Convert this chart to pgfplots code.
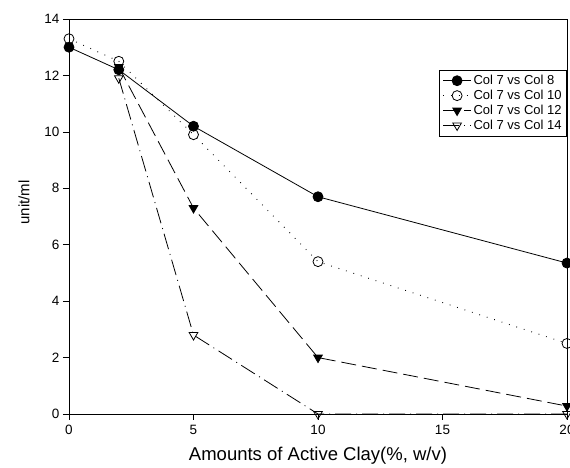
\documentclass[border=0pt]{standalone}
\usepackage{pgfplots}
\pgfplotsset{compat=1.18}
\usepackage{fontspec}
\setmainfont{Liberation Sans}

\begin{document}
\begin{tikzpicture}
\begin{axis}[
    name=ax,
    scale only axis,
    width=498pt, height=395pt,
    xmin=0, xmax=20, ymin=0, ymax=14,
    xtick={0,5,10,15,20},
    ytick={0,2,...,14},
    tick align=outside,
    xtick pos=bottom, ytick pos=left,
    major tick length=6pt,
    tick style={black, line width=0.6pt},
    axis line style={line width=0.7pt},
    tick label style={font=\fontsize{13.5}{15}\selectfont},
    xticklabel style={yshift=-2pt},
    /pgf/number format/assume math mode=true,
    xlabel={Amounts of Active Clay(\%, w/v)},
    ylabel={unit/ml},
    xlabel style={font=\fontsize{18.5}{20}\selectfont, yshift=-5pt},
    ylabel style={font=\fontsize{15}{17}\selectfont, yshift=8pt, xshift=14pt},
    clip=false,
    legend image code/.code={
      \draw[mark repeat=2, mark phase=2] plot coordinates {(0pt,0pt) (14pt,0pt) (28pt,0pt)};
    },
    legend style={
        font=\fontsize{13}{15}\selectfont,
        at={(1,0.871)}, anchor=north east,
        draw=black, line width=0.6pt,
        row sep=0pt, inner sep=3pt,
    },
    legend cell align=left,
]
  % Col 7 vs Col 8
  \addplot[black, line width=0.8pt, mark=*, mark size=5pt] coordinates {
    (0,13.0) (2,12.2) (5,10.2) (10,7.7) (20,5.35)
  };
  \addlegendentry{Col 7 vs Col 8}
  % Col 7 vs Col 10
  \addplot[black, line width=0.9pt, dash pattern=on 0.8pt off 7pt,
           mark=o, mark size=5pt, mark options={solid, fill=white, line width=0.8pt},
           legend image code/.code={
             \path[mark repeat=2, mark phase=2] plot coordinates {(0pt,0pt) (14pt,0pt) (28pt,0pt)};
           }] coordinates {
    (0,13.3) (2,12.5) (5,9.9) (10,5.4) (20,2.5)
  };
  \addlegendentry{Col 7 vs Col 10}
  % Col 7 vs Col 12
  \addplot[black, line width=0.8pt, dash pattern=on 15pt off 6pt,
           mark=triangle*, mark size=5pt, mark options={solid, rotate=180}] coordinates {
    (2,12.3) (5,7.3) (10,2.0) (20,0.28)
  };
  \addlegendentry{Col 7 vs Col 12}
  % Col 7 vs Col 14
  \addplot[black, line width=0.8pt, dash pattern=on 16pt off 5pt on 1pt off 5pt,
           mark=triangle, mark size=5pt, mark options={solid, rotate=180, fill=white}] coordinates {
    (2,11.9) (5,2.8) (10,0) (20,0)
  };
  \addlegendentry{Col 7 vs Col 14}
\end{axis}
\pgfresetboundingbox
\path (-69pt,-54pt) rectangle (501pt,414pt);
\end{tikzpicture}
\end{document}
